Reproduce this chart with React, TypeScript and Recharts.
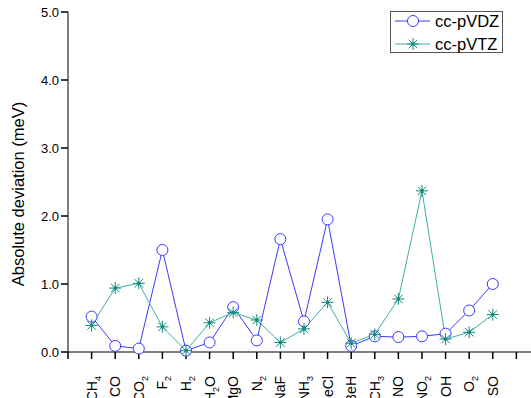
import React from 'react';
import { LineChart, Line, XAxis, YAxis, Label } from 'recharts';

// molecules along the x axis (digits are drawn as subscripts)
const species = ['CH4', 'CO', 'CO2', 'F2', 'H2', 'H2O', 'MgO', 'N2', 'NaF', 'NH3', 'BeCl', 'BeH', 'CH3', 'NO', 'NO2', 'OH', 'O2', 'SO'];
const vdz = [0.52, 0.09, 0.05, 1.50, 0.02, 0.14, 0.66, 0.17, 1.66, 0.45, 1.95, 0.09, 0.23, 0.22, 0.23, 0.27, 0.61, 1.00];
const vtz = [0.39, 0.94, 1.01, 0.37, 0.02, 0.43, 0.58, 0.47, 0.14, 0.34, 0.73, 0.13, 0.26, 0.78, 2.37, 0.19, 0.29, 0.55];
const yTicks = [0, 1, 2, 3, 4, 5];
const xTicks = [0, 1, 2, 3, 4, 5, 6, 7, 8, 9, 10, 11, 12, 13, 14, 15, 16, 17, 18, 19];

const BLUE = '#3a3aff';
const TEAL_LINE = '#3fb0a4';
const TEAL_MARK = '#13897c';
const FONT = '"Liberation Sans", Arial, sans-serif';

const data = species.map((s, i) => ({ x: i + 1, name: s, vdz: vdz[i], vtz: vtz[i] }));

const SpeciesTick = (props: any) => {
  const { x, y, payload } = props;
  const label = species[payload.value - 1];
  if (!label) return null;
  const parts = label.match(/\d+|\D+/g) || [];
  let shifted = false;
  return (
    <g transform={`translate(${x},${y}) rotate(-90)`}>
      <text x={-15} y={5} textAnchor="end" fontSize={14} fill="#000" fontFamily={FONT}>
        {parts.map((p, i) => {
          const isSub = /\d/.test(p);
          let dy = 0;
          if (isSub && !shifted) { dy = 4; shifted = true; }
          else if (!isSub && shifted) { dy = -4; shifted = false; }
          return (
            <tspan key={i} dy={dy} fontSize={isSub ? 9 : 14}>{p}</tspan>
          );
        })}
      </text>
    </g>
  );
};

const CircleDot = (props: any) => {
  const { cx, cy } = props;
  if (cx == null || cy == null) return null;
  return <circle cx={cx} cy={cy} r={5.5} fill="#fff" stroke={BLUE} strokeWidth={1} />;
};

const StarDot = (props: any) => {
  const { cx, cy } = props;
  if (cx == null || cy == null) return null;
  const r = 6;
  const d = r * Math.SQRT1_2;
  return (
    <g stroke={TEAL_MARK} strokeWidth={1}>
      <line x1={cx - r} y1={cy} x2={cx + r} y2={cy} />
      <line x1={cx} y1={cy - r} x2={cx} y2={cy + r} />
      <line x1={cx - d} y1={cy - d} x2={cx + d} y2={cy + d} />
      <line x1={cx - d} y1={cy + d} x2={cx + d} y2={cy - d} />
      <circle cx={cx} cy={cy} r={1.8} fill={TEAL_MARK} stroke="none" />
    </g>
  );
};

const LegendBox = () => (
  <div style={{ position: 'absolute', left: 390, top: 11, width: 113, height: 42, border: '1px solid #555', background: '#fff', boxSizing: 'border-box' }}>
    <svg width={111} height={40} style={{ display: 'block', overflow: 'visible' }}>
      <line x1={4} y1={9} x2={39} y2={9} stroke={BLUE} />
      <CircleDot cx={22} cy={9} />
      <text x={44} y={15} fontSize={16.5} fontFamily={FONT} fill="#000">cc-pVDZ</text>
      <line x1={4} y1={32} x2={39} y2={32} stroke={TEAL_LINE} />
      <StarDot cx={22} cy={32} />
      <text x={44} y={38} fontSize={16.5} fontFamily={FONT} fill="#000">cc-pVTZ</text>
    </svg>
  </div>
);

export default function App() {
  return (
    <div style={{ position: 'absolute', left: 0, top: 0, width: 531, height: 398, background: '#fff', fontFamily: FONT, overflow: 'hidden' }}>
      <LineChart width={531} height={398} data={data} margin={{ top: 12, right: 0, bottom: 0, left: 0 }}>
        <XAxis
          dataKey="x"
          type="number"
          domain={[0, 19.62]}
          ticks={xTicks}
          interval={0}
          allowDataOverflow
          height={46}
          tick={<SpeciesTick />}
          tickSize={7}
          axisLine={{ stroke: '#000' }}
          tickLine={{ stroke: '#000', strokeWidth: 1.5 }}
        />
        <YAxis
          domain={[0, 5]}
          ticks={yTicks}
          width={68}
          tickSize={7}
          tickFormatter={(v: number) => v.toFixed(1)}
          tick={{ fill: '#000', fontSize: 13 }}
          axisLine={{ stroke: '#000' }}
          tickLine={{ stroke: '#000', strokeWidth: 1.5 }}
        >
          <Label
            content={() => (
              <text transform="translate(24,194) rotate(-90)" textAnchor="middle" fontSize={16.5} fontFamily={FONT} fill="#000">
                Absolute deviation (meV)
              </text>
            )}
          />
        </YAxis>
        <Line type="linear" dataKey="vdz" name="cc-pVDZ" stroke={BLUE} strokeWidth={1} dot={<CircleDot />} isAnimationActive={false} />
        <Line type="linear" dataKey="vtz" name="cc-pVTZ" stroke={TEAL_LINE} strokeWidth={1} dot={<StarDot />} isAnimationActive={false} />
      </LineChart>
      <LegendBox />
    </div>
  );
}
